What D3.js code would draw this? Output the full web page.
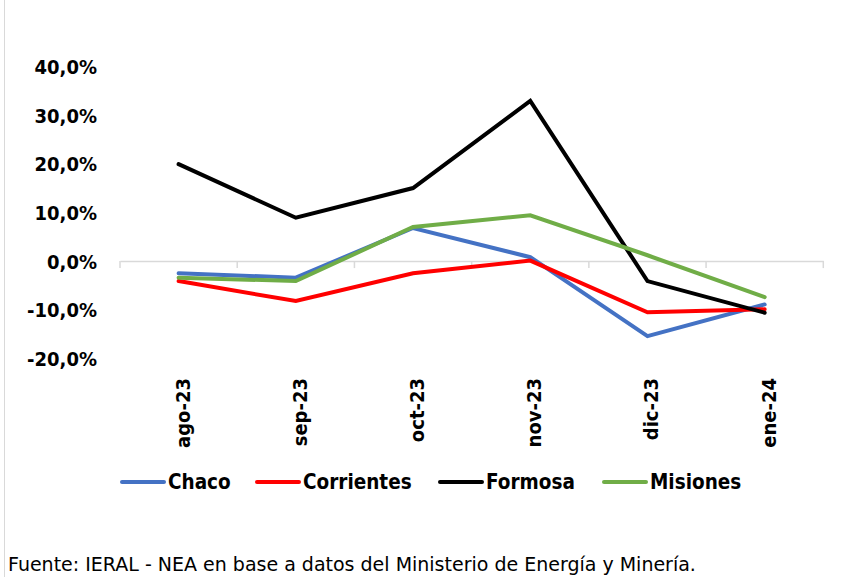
<!DOCTYPE html>
<html><head><meta charset="utf-8">
<script src="https://cdn.jsdelivr.net/npm/d3@7"></script>
<style>body{margin:0;background:#fff}svg{display:block}</style>
</head><body>
<svg id="c" width="852" height="577"></svg>
<script>
const categories = ["ago-23","sep-23","oct-23","nov-23","dic-23","ene-24"];
const chaco      = [-0.025, -0.034, 0.068, 0.008, -0.154, -0.089];
const corrientes = [-0.041, -0.082, -0.025, 0.001, -0.105, -0.099];
const formosa    = [0.199, 0.089, 0.150, 0.329, -0.041, -0.106];
const misiones   = [-0.034, -0.041, 0.070, 0.094, 0.012, -0.074];
const seriesNames = ["Chaco","Corrientes","Formosa","Misiones"];
const seriesColors = ["#4472C4","#FF0000","#000000","#70AD47"];
const yTicks = [0.4,0.3,0.2,0.1,0,-0.1,-0.2];
const source = "Fuente: IERAL - NEA en base a datos del Ministerio de Energía y Minería.";

const series = [chaco, corrientes, formosa, misiones];
const svg = d3.select("#c");
const FONT = "'DejaVu Sans Condensed','DejaVu Sans',sans-serif";

// left border line
svg.append("line").attr("x1",4.5).attr("x2",4.5).attr("y1",0).attr("y2",577)
  .attr("stroke","#d9d9d9").attr("stroke-width",1);

const x = d3.scaleBand().domain(categories).range([120, 823.3]);
const y = d3.scaleLinear().domain([-0.2, 0.4]).range([358.5, 66.3]);

// y tick labels
const fmt = v => (v*100).toFixed(1).replace(".", ",") + "%";
const yAxis = d3.axisLeft(y).tickValues(yTicks).tickFormat(fmt).tickSize(0).tickPadding(0);
const ya = svg.append("g").attr("transform","translate(97,0)").call(yAxis);
ya.select(".domain").remove();
ya.selectAll("text").attr("font-family",FONT).attr("font-weight","bold")
  .attr("font-size",20).attr("fill","#000").attr("dy","0.35em");

// zero axis with ticks
const xAxis = d3.axisBottom(x).tickSizeOuter(0).tickSize(0).tickFormat("");
const xa = svg.append("g").attr("transform",`translate(0,${y(0)})`).call(xAxis);
xa.select(".domain").attr("stroke","#d9d9d9").attr("stroke-width",1.5);
xa.selectAll(".tick").remove();
const bounds = categories.map(c => x(c)).concat([x.range()[1]]);
xa.selectAll("line.sep").data(bounds).join("line").attr("class","sep")
  .attr("x1",d=>d).attr("x2",d=>d).attr("y1",0).attr("y2",7)
  .attr("stroke","#d9d9d9").attr("stroke-width",1.5);

// category labels rotated
svg.append("g").selectAll("text").data(categories).join("text")
  .attr("transform", d => `translate(${x(d)+x.bandwidth()/2+11},378) rotate(-90)`)
  .attr("text-anchor","end")
  .attr("font-family",FONT).attr("font-weight","bold").attr("font-size",20)
  .text(d=>d);

// lines
const line = d3.line().x((d,i)=>x(categories[i])+x.bandwidth()/2).y(d=>y(d));
svg.append("g").selectAll("path").data(series).join("path")
  .attr("d", d=>line(d)).attr("fill","none")
  .attr("stroke",(d,i)=>seriesColors[i]).attr("stroke-width",4)
  .attr("stroke-linejoin","miter").attr("stroke-linecap","round");

// legend
const legX = [122, 257, 440, 604];
const leg = svg.append("g").selectAll("g").data(seriesNames).join("g")
  .attr("transform",(d,i)=>`translate(${legX[i]},482)`);
leg.append("line").attr("x1",0).attr("x2",42).attr("y1",0).attr("y2",0)
  .attr("stroke",(d,i)=>seriesColors[i]).attr("stroke-width",4).attr("stroke-linecap","round");
leg.append("text").attr("x",46).attr("dy","0.36em")
  .attr("font-family",FONT).attr("font-weight","bold").attr("font-size",20.5).text(d=>d);

// source
svg.append("text").attr("x",8).attr("y",571)
  .attr("font-family","'DejaVu Sans',sans-serif").attr("font-size",19).attr("fill","#000").text(source);
</script>
</body></html>
